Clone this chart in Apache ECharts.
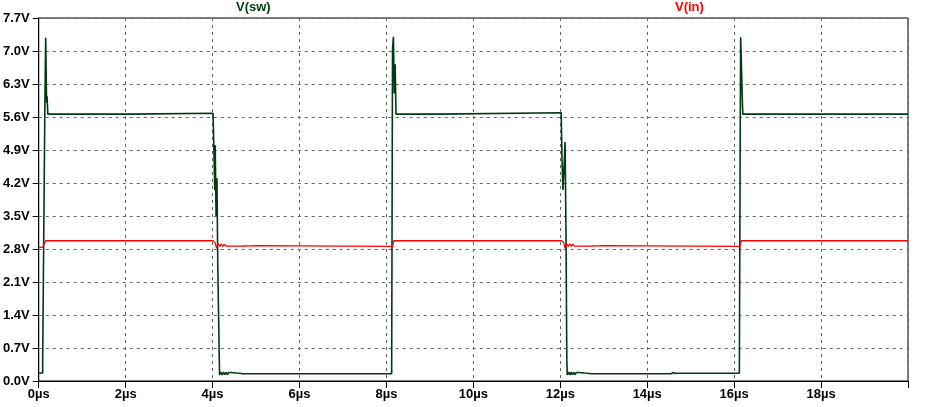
<!DOCTYPE html>
<html>
<head>
<meta charset="utf-8">
<script src="https://cdn.jsdelivr.net/npm/echarts@6/dist/echarts.min.js"></script>
<style>html,body{margin:0;padding:0;background:#fff}#c{width:925px;height:407px}</style>
</head>
<body>
<div id="c"></div>
<script>
// time in µs
const swTime = [0,0.09,0.09,0.13,0.14,0.16,0.18,0.19,0.21,2.1,2.1,4.01,4.03,4.05,4.06,4.08,4.10,4.12,4.16,4.19,4.22,4.25,4.28,4.31,4.34,4.37,4.40,4.43,4.46,4.49,4.52,4.55,4.58,4.62,4.70,4.80,4.90,8.12,8.14,8.16,8.18,8.20,8.22,9.2,9.2,12.02,12.04,12.06,12.09,12.11,12.13,12.15,12.16,12.19,12.22,12.25,12.28,12.31,12.34,12.37,12.40,12.43,12.46,12.49,12.52,12.55,12.58,12.62,12.70,12.80,13.0,14.55,14.6,14.65,14.7,16.12,16.14,16.15,16.18,16.19,16.20,16.22,20];
const swVal  = [0.17,0.17,0.40,0.40,5.73,7.28,5.90,6.05,5.66,5.66,5.68,5.68,4.90,4.05,5.00,3.50,4.30,2.40,0.13,0.19,0.13,0.19,0.135,0.185,0.135,0.18,0.14,0.18,0.14,0.175,0.145,0.17,0.15,0.165,0.155,0.155,0.155,0.155,7.04,7.30,6.10,6.72,5.66,5.66,5.69,5.69,4.69,4.05,4.60,5.07,3.25,0.49,0.13,0.19,0.13,0.19,0.135,0.185,0.135,0.18,0.14,0.18,0.14,0.175,0.145,0.17,0.15,0.165,0.155,0.155,0.155,0.155,0.18,0.16,0.165,0.165,5.39,7.29,7.27,5.90,5.66,5.66,5.66];

const inTime = [0,0.09,0.11,0.16,4.01,4.06,4.09,4.11,4.13,4.165,4.20,4.235,4.27,4.305,4.34,4.375,4.41,4.445,4.48,4.515,4.55,4.585,4.62,4.655,4.69,4.725,4.76,4.795,4.83,4.865,4.90,5.0,6.0,8.14,8.17,12.03,12.08,12.11,12.13,12.15,12.185,12.22,12.255,12.29,12.325,12.36,12.395,12.43,12.465,12.50,12.535,12.57,12.605,12.64,12.675,12.71,12.745,12.78,12.815,12.85,12.885,12.92,13.0,14.0,16.13,16.17,20];
const inVal  = [2.83,2.84,2.87,2.975,2.975,2.93,2.82,2.82,2.91,2.855,2.91,2.855,2.905,2.86,2.90,2.86,2.90,2.86,2.895,2.86,2.89,2.862,2.888,2.862,2.885,2.864,2.882,2.865,2.88,2.866,2.878,2.87,2.865,2.855,2.975,2.975,2.93,2.82,2.82,2.91,2.855,2.91,2.855,2.905,2.86,2.90,2.86,2.90,2.86,2.895,2.86,2.89,2.862,2.888,2.862,2.885,2.864,2.882,2.865,2.88,2.866,2.878,2.87,2.865,2.855,2.975,2.975];

const xTicks = [0,2,4,6,8,10,12,14,16,18];
const yMax = 7.7, yStep = 0.7, xMax = 20, xStep = 2;

const seriesNames = ['V(sw)','V(in)'];
const pair = (t, v) => t.map((x, i) => [x, v[i]]);

const chart = echarts.init(document.getElementById('c'), null, {renderer:'canvas'});
const font = 'Liberation Sans, Arial, sans-serif';
chart.setOption({
  animation: false,
  backgroundColor: '#fff',
  grid: {left: 36, right: 17, top: 18, bottom: 26, show: true, borderColor: '#000', borderWidth: 1, backgroundColor: 'transparent'},
  xAxis: {
    type: 'value', min: 0, max: xMax, interval: xStep,
    axisLine: {show: true, lineStyle: {color: '#000', width: 1}},
    axisTick: {show: true, length: 7, lineStyle: {color: '#000'}},
    axisLabel: {color: '#000', fontFamily: font, fontWeight: 'bold', fontSize: 13, margin: 7,
      formatter: v => (xTicks.indexOf(v) >= 0 ? v + 'µs' : '')},
    splitLine: {show: true, lineStyle: {color: '#666', type: [3, 4], width: 1}}
  },
  yAxis: {
    type: 'value', min: 0, max: yMax, interval: yStep,
    axisLine: {show: true, lineStyle: {color: '#000', width: 1}},
    axisTick: {show: true, length: 6, lineStyle: {color: '#000'}},
    axisLabel: {color: '#000', fontFamily: font, fontWeight: 'bold', fontSize: 13, margin: 9,
      formatter: v => v.toFixed(1) + 'V'},
    splitLine: {show: true, lineStyle: {color: '#666', type: [3, 4], width: 1}}
  },
  graphic: [
    {type: 'text', left: 236, top: 1, style: {text: seriesNames[0], fill: '#004010', font: 'bold 13px ' + font}},
    {type: 'text', left: 675, top: 1, style: {text: seriesNames[1], fill: '#ff0000', font: 'bold 13px ' + font}}
  ],
  series: [
    {name: seriesNames[0], type: 'line', data: pair(swTime, swVal), symbol: 'none', sampling: null, lineStyle: {color: '#003a10', width: 1.6}},
    {name: seriesNames[1], type: 'line', data: pair(inTime, inVal), symbol: 'none', lineStyle: {color: '#ff0000', width: 1.3}}
  ]
});
</script>
</body>
</html>
